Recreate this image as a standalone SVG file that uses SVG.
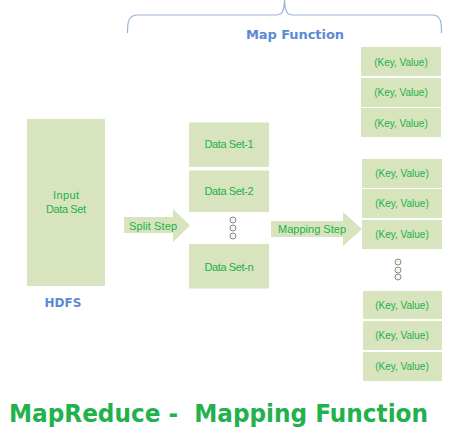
<svg xmlns="http://www.w3.org/2000/svg" width="450" height="434" viewBox="0 0 450 434">
<style>
.box{fill:#d7e4bd}
.t{font-family:"Liberation Sans",Arial,sans-serif;font-size:10px;fill:#22b14c;text-anchor:middle}
.m{font-size:11px}
.dot{fill:#f2f7ea;stroke:#8c8c8c;stroke-width:1}
.blue{font-family:"DejaVu Sans",Verdana,sans-serif;font-weight:bold;fill:#5a8ad6;text-anchor:middle}
</style>
<rect width="450" height="434" fill="#ffffff"/>
<g id="brace">
<path d="M127.5,33 C127.5,22 128,15 138,15 L276,15 C282,15 284,12 284.5,0 C285,12 287,15 293,15 L432,15 C441,15 441.5,22 441.5,33" fill="none" stroke="#9bb3d6" stroke-width="1.2"/>
<text class="blue" x="295" y="39" font-size="13" textLength="98">Map Function</text>
</g>
<g id="input">
<rect class="box" x="27" y="119" width="78" height="167"/>
<text class="t m" x="66" y="199" textLength="26">Input</text>
<text class="t m" x="66" y="212.5" textLength="40">Data Set</text>
</g>
<g id="hdfs">
<text class="blue" x="63" y="307" font-size="12">HDFS</text>
</g>
<g id="connectors">
<path id="split" class="box" d="M124,217 L173,217 L173,209 L190,225.5 L173,242 L173,233 L124,233 Z"/>
<path id="mapping" class="box" d="M271,221 L343,221 L343,212 L362,229 L343,246 L343,237 L271,237 Z"/>
<text class="t m" x="153" y="229.5" textLength="48">Split Step</text>
<text class="t m" x="312" y="233" textLength="68">Mapping Step</text>
</g>
<g id="ds1"><rect class="box" x="189" y="122.5" width="80" height="44.5"/><text class="t m" x="229" y="148" textLength="49">Data Set-1</text></g>
<g id="ds2"><rect class="box" x="189" y="170.5" width="80" height="41.5"/><text class="t m" x="229" y="195" textLength="49">Data Set-2</text></g>
<g id="dsdots"><circle class="dot" cx="233" cy="220" r="3"/><circle class="dot" cx="233" cy="228" r="3"/><circle class="dot" cx="233" cy="236" r="3"/></g>
<g id="dsn"><rect class="box" x="189" y="244" width="80" height="44.5"/><text class="t m" x="229" y="271" textLength="49">Data Set-n</text></g>
<g id="kv1"><rect class="box" x="361" y="47" width="80" height="29"/><text class="t" x="401" y="65.5">(Key, Value)</text></g>
<g id="kv2"><rect class="box" x="361" y="78" width="80" height="29"/><text class="t" x="401" y="96">(Key, Value)</text></g>
<g id="kv3"><rect class="box" x="361" y="108" width="80" height="29"/><text class="t" x="401" y="127">(Key, Value)</text></g>
<g id="kv4"><rect class="box" x="362" y="159" width="80" height="29"/><text class="t" x="402" y="177">(Key, Value)</text></g>
<g id="kv5"><rect class="box" x="362" y="189" width="80" height="29"/><text class="t" x="402" y="207">(Key, Value)</text></g>
<g id="kv6"><rect class="box" x="362" y="220" width="80" height="29"/><text class="t" x="402" y="238">(Key, Value)</text></g>
<g id="kvdots"><circle class="dot" cx="398" cy="262" r="3"/><circle class="dot" cx="398" cy="270" r="3"/><circle class="dot" cx="398" cy="277" r="3"/></g>
<g id="kv7"><rect class="box" x="363" y="291" width="79" height="28"/><text class="t" x="402" y="309">(Key, Value)</text></g>
<g id="kv8"><rect class="box" x="363" y="321" width="79" height="29"/><text class="t" x="402" y="339">(Key, Value)</text></g>
<g id="kv9"><rect class="box" x="363" y="352" width="79" height="29"/><text class="t" x="402" y="370">(Key, Value)</text></g>
<g id="title">
<text x="9" y="422" xml:space="preserve" font-family="'DejaVu Sans',Verdana,sans-serif" font-weight="bold" font-size="24" fill="#22b14c" textLength="419" lengthAdjust="spacingAndGlyphs">MapReduce -  Mapping Function</text>
</g>
</svg>
